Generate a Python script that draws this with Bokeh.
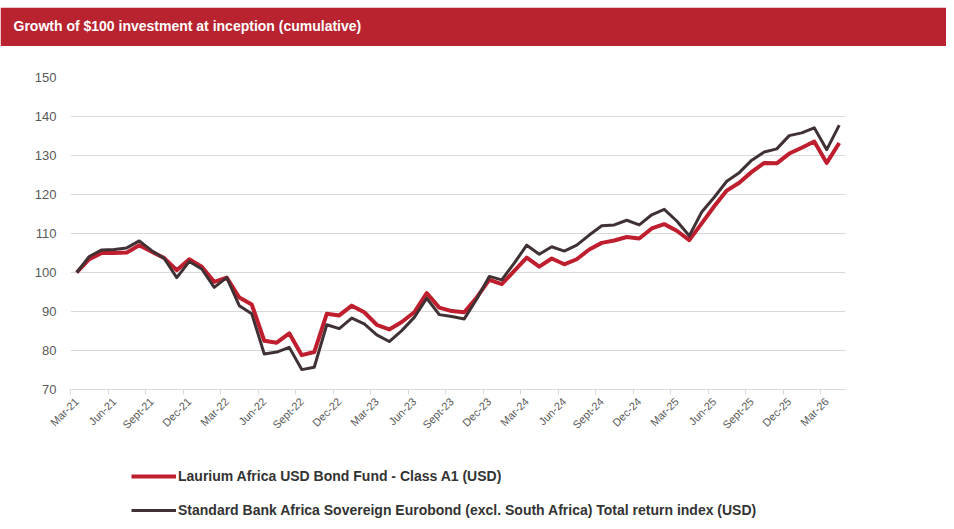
import math
from bokeh.plotting import figure
from bokeh.models import (Range1d, FixedTicker, Legend, LegendItem, Title, Spacer)
from bokeh.layouts import column
from bokeh.embed import file_html
from bokeh.resources import INLINE

# ---------------- data ----------------
month_names = ["Mar", "Apr", "May", "Jun", "Jul", "Aug", "Sept", "Oct", "Nov", "Dec", "Jan", "Feb"]
months = []
yr = 21
for i in range(62):
    m = month_names[i % 12]
    if m == "Jan" and i > 0:
        yr += 1
    months.append(f"{m}-{yr}")

fund = [100.0, 103.4, 105.0, 105.0, 105.1, 107.0, 105.3, 103.7, 100.6, 103.4,
        101.5, 97.6, 98.7, 93.6, 91.8, 82.5, 82.0, 84.4, 78.8, 79.6,
        89.4, 89.0, 91.5, 89.8, 86.6, 85.4, 87.3, 89.8, 94.7, 91.0,
        90.1, 89.8, 93.6, 98.1, 97.0, 100.4, 103.8, 101.5, 103.6, 102.1,
        103.4, 105.9, 107.6, 108.2, 109.1, 108.7, 111.3, 112.4, 110.7, 108.3,
        112.6, 117.0, 121.0, 123.0, 125.8, 128.1, 128.0, 130.5, 132.0, 133.6,
        128.1, 133.2]
index = [100.0, 104.1, 105.8, 105.9, 106.3, 108.1, 105.6, 103.6, 98.7, 102.8,
         100.9, 96.2, 98.7, 91.5, 89.4, 79.1, 79.6, 80.8, 75.1, 75.7,
         86.6, 85.6, 88.3, 86.8, 84.0, 82.3, 85.1, 88.5, 93.4, 89.2,
         88.7, 88.1, 93.2, 99.0, 98.1, 102.4, 107.0, 104.7, 106.6, 105.5,
         107.0, 109.6, 112.0, 112.2, 113.4, 112.2, 114.8, 116.2, 113.2, 109.4,
         115.5, 119.3, 123.4, 125.6, 128.8, 130.9, 131.7, 135.1, 135.8, 137.1,
         131.5, 137.8]
y_ticks = [70, 80, 90, 100, 110, 120, 130, 140, 150]
fund_label = "Laurium Africa USD Bond Fund - Class A1 (USD)"
index_label = "Standard Bank Africa Sovereign Eurobond (excl. South Africa) Total return index (USD)"
title_text = "Growth of $100 investment at inception (cumulative)"

RED = "#BE1E2D"
HEADER = "#B8232F"
DARK = "#403234"
GRID = "#D9D9D9"
TXT = "#595959"
FONT = "Liberation Sans"

W = 946
BL, BR = 70, 101
FW = W - BL - BR


def bare(fig):
    fig.outline_line_color = None
    fig.grid.visible = False


# ---------------- header ----------------
h = figure(width=W, height=39, toolbar_location=None, output_backend="svg",
           x_axis_type=None, y_axis_type=None,
           min_border_left=BL, min_border_right=BR, min_border_top=30, min_border_bottom=0,
           x_range=Range1d(0, 1), y_range=Range1d(0, 1))
h.grid.visible = False
h.background_fill_color = HEADER
h.border_fill_color = HEADER
h.outline_line_color = HEADER
h.outline_line_width = 3
h.title = Title(text=title_text, align="left", offset=13 - BL, standoff=8,
                text_color="white", text_font=FONT, text_font_style="bold",
                text_font_size="14px")

# ---------------- main chart ----------------
xs = list(range(len(months)))
p = figure(frame_width=FW, frame_height=312, toolbar_location=None, output_backend="svg",
           x_range=Range1d(-0.5, len(months) - 0.5), y_range=Range1d(70, 150),
           min_border_left=BL, min_border_right=BR, min_border_top=31, min_border_bottom=50)
p.outline_line_color = None
p.background_fill_color = "white"
p.border_fill_color = "white"

r_fund = p.line(xs, fund, line_color=RED, line_width=4, line_join="round")
r_index = p.line(xs, index, line_color=DARK, line_width=3, line_join="round")

# y axis
p.yaxis.ticker = FixedTicker(ticks=y_ticks)
p.yaxis.axis_line_color = None
p.yaxis.major_tick_line_color = None
p.yaxis.minor_tick_line_color = None
p.yaxis.major_label_text_font = FONT
p.yaxis.major_label_text_font_size = "13px"
p.yaxis.major_label_text_color = TXT
p.yaxis.major_label_standoff = 8
p.ygrid.grid_line_color = GRID
p.ygrid.ticker = FixedTicker(ticks=y_ticks)
p.xgrid.visible = False

# x axis
label_pos = list(range(0, len(months), 3))
p.xaxis.ticker = FixedTicker(ticks=label_pos, minor_ticks=[k - 0.5 for k in label_pos])
p.xaxis.major_label_overrides = {k: months[k] for k in label_pos}
p.xaxis.major_label_orientation = math.pi / 4
p.xaxis.axis_line_color = GRID
p.xaxis.major_tick_line_color = None
p.xaxis.major_tick_in = 0
p.xaxis.major_tick_out = 0
p.xaxis.minor_tick_line_color = GRID
p.xaxis.minor_tick_in = 0
p.xaxis.minor_tick_out = 5
p.xaxis.major_label_text_font = FONT
p.xaxis.major_label_text_font_size = "11px"
p.xaxis.major_label_text_color = TXT
p.xaxis.major_label_standoff = 5

# ---------------- legend ----------------
# the legend panel re-uses the two series (outside its visible range) so that
# the legend glyphs are drawn with the same line styles
lg = figure(width=W, height=86, toolbar_location=None, output_backend="svg",
            x_axis_type=None, y_axis_type=None,
            min_border_left=BL, min_border_right=BR, min_border_top=0, min_border_bottom=0,
            x_range=Range1d(0, 1), y_range=Range1d(0, 1))
bare(lg)
lg.background_fill_color = "white"
lg.border_fill_color = "white"
l_fund = lg.line(xs, fund, line_color=RED, line_width=4)
l_index = lg.line(xs, index, line_color=DARK, line_width=3)
legend = Legend(items=[LegendItem(label=fund_label, renderers=[l_fund]),
                       LegendItem(label=index_label, renderers=[l_index])],
                location=(61, 5), orientation="vertical",
                glyph_width=45, glyph_height=20, label_height=20, spacing=14,
                padding=0, margin=0, border_line_color=None, background_fill_alpha=0,
                label_text_font=FONT, label_text_font_style="bold",
                label_text_font_size="14px", label_text_color="#333333",
                label_standoff=2)
lg.add_layout(legend)

layout = column(Spacer(width=W, height=7), h, p, lg, spacing=0)
open("out.html", "w").write(file_html(layout, INLINE))
